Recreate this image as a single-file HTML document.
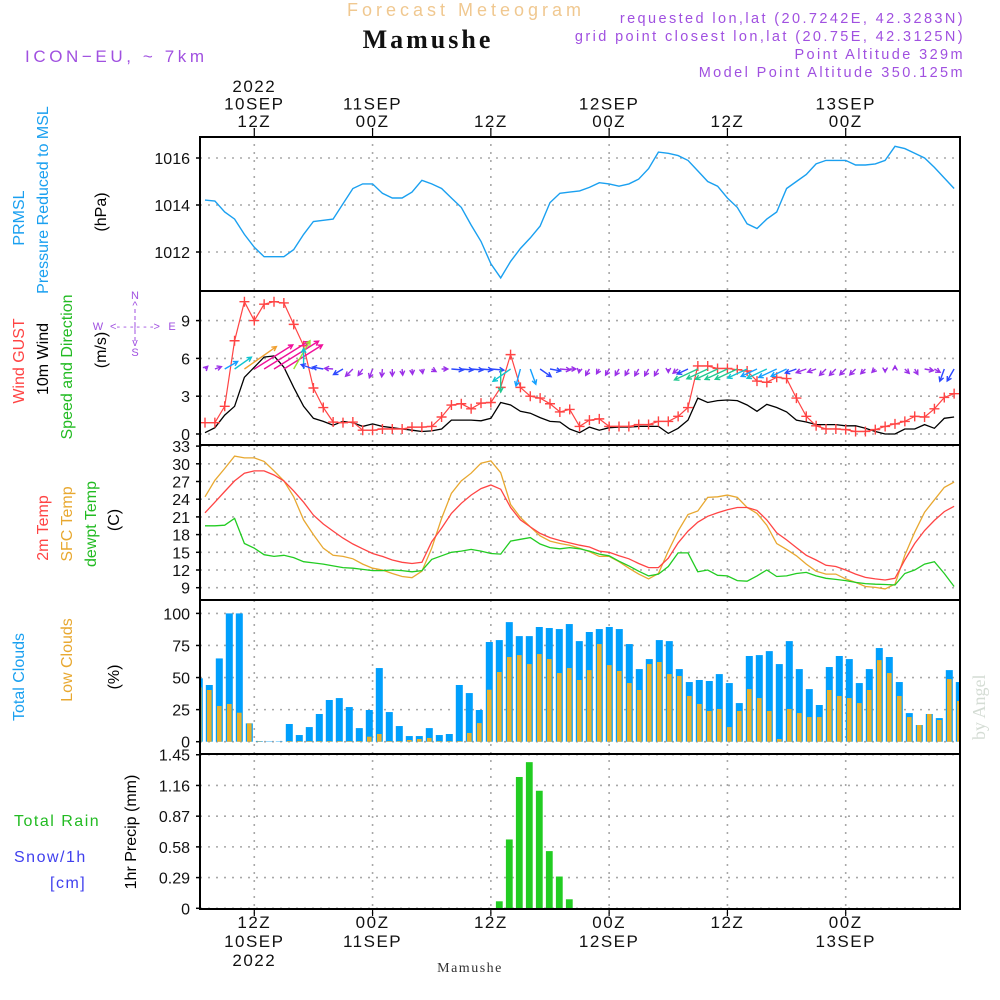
<!DOCTYPE html>
<html><head><meta charset="utf-8"><style>
html,body{margin:0;padding:0;background:#fff;}
svg{display:block;font-family:"Liberation Sans",sans-serif;}
</style></head><body>
<svg id="chart" width="1000" height="1000" viewBox="0 0 1000 1000">
<defs><clipPath id="plotclip"><rect x="200" y="137" width="760" height="772"/></clipPath></defs>
<text x="466" y="16" text-anchor="middle" font-size="18" fill="#f0c890" letter-spacing="4">Forecast Meteogram</text>
<text x="428" y="48" text-anchor="middle" font-size="26" font-weight="bold" font-family="Liberation Serif,serif" fill="#111" letter-spacing="3">Mamushe</text>
<text x="25" y="62" font-size="17" fill="#a050e0" letter-spacing="3.6">ICON−EU, ~ 7km</text>
<g font-size="14.5" fill="#a050e0" text-anchor="end" letter-spacing="2.4">
<text x="965" y="23">requested lon,lat (20.7242E, 42.3283N)</text>
<text x="965" y="41">grid point closest lon,lat (20.75E, 42.3125N)</text>
<text x="965" y="59">Point Altitude 329m</text>
<text x="965" y="77">Model Point Altitude 350.125m</text>
</g>
<g id="grid"></g>
<g id="marks" clip-path="url(#plotclip)"></g>
<g id="frames"></g>
<g id="axes" font-size="16" fill="#111"></g>
<g id="labels" font-size="16"></g>
<text transform="translate(985,740) rotate(-90)" font-size="18" font-family="Liberation Serif,serif" fill="#d4dcd4">by Angel</text>
<text x="470" y="972" text-anchor="middle" font-size="14" font-family="Liberation Serif,serif" fill="#333" letter-spacing="1.5">Mamushe</text>
</svg>
<script>
const pressure=[1014.21,1014.17,1013.7,1013.4,1012.75,1012.2,1011.8,1011.8,1011.8,1012.1,1012.75,1013.3,1013.35,1013.4,1014.05,1014.7,1014.9,1014.9,1014.5,1014.3,1014.3,1014.55,1015.05,1014.9,1014.7,1014.3,1013.9,1013.15,1012.45,1011.5,1010.9,1011.6,1012.15,1012.6,1013.1,1014.1,1014.5,1014.55,1014.6,1014.75,1014.95,1014.9,1014.8,1014.9,1015.1,1015.55,1016.25,1016.2,1016.1,1015.9,1015.45,1015.0,1014.8,1014.3,1013.9,1013.2,1013.0,1013.4,1013.7,1014.7,1015.0,1015.3,1015.75,1015.9,1015.9,1015.9,1015.7,1015.7,1015.75,1015.9,1016.5,1016.4,1016.2,1016.0,1015.6,1015.15,1014.7];
const gust=[0.9,0.9,2.2,7.4,10.5,9.0,10.3,10.5,10.4,8.7,7.0,3.65,2.1,0.95,0.9,0.95,0.3,0.3,0.4,0.4,0.4,0.55,0.55,0.6,1.35,2.3,2.4,2.0,2.45,2.5,3.7,6.3,3.7,3.0,2.85,2.4,1.75,1.95,0.6,1.1,1.2,0.6,0.6,0.6,0.75,0.75,1.0,1.0,1.4,2.1,5.4,5.4,5.2,5.2,5.1,5.0,4.2,4.1,4.5,4.4,2.85,1.4,0.65,0.4,0.4,0.35,0.2,0.2,0.35,0.6,0.8,1.0,1.4,1.35,2.0,2.9,3.2];
const wind10m=[0.1,0.5,1.5,2.2,4.5,5.3,6.1,6.2,5.3,3.7,2.2,1.25,1.0,0.7,1.0,0.9,0.6,0.8,0.6,0.5,0.4,0.3,0.2,0.25,0.4,1.1,1.1,1.1,1.05,1.25,2.5,2.3,1.8,1.65,1.3,1.0,0.95,0.4,0.1,0.55,0.3,0.5,0.55,0.55,0.6,0.6,0.6,0.05,0.45,1.1,2.85,2.5,2.65,2.7,2.65,2.3,1.8,2.35,2.1,1.75,1.1,0.95,0.75,0.75,0.75,0.65,0.65,0.45,0.2,0.0,0.0,0.4,0.4,0.75,0.45,1.25,1.35];
const windDirTo=[45,70,60,55,55,58,58,58,58,30,0,290,280,275,240,225,215,200,185,180,175,175,170,120,90,95,95,95,95,95,180,235,195,160,125,100,95,90,190,210,210,210,210,210,210,210,210,180,230,245,245,245,245,245,245,245,245,245,245,245,250,250,250,225,225,225,225,225,225,180,0,135,150,100,120,200,210];
const temp2m=[21.7,23.5,25.3,27.1,28.4,28.8,28.8,28.1,27.1,25.4,23.5,21.3,19.8,18.6,17.4,16.4,15.6,14.8,14.3,13.7,13.3,13.1,13.3,16.8,19.1,21.6,23.3,24.7,25.8,26.4,25.7,22.6,20.5,19.3,18.2,17.5,17.0,16.6,16.2,15.9,15.2,15.0,14.4,13.9,13.1,12.4,12.4,14.0,16.6,18.6,20.1,21.1,21.7,22.2,22.6,22.6,22.1,20.5,18.3,17.1,15.8,14.5,13.7,12.8,12.6,12.0,11.3,10.75,10.5,10.3,10.6,13.7,16.5,18.7,20.4,21.9,22.8];
const sfcTemp=[24.4,27.2,29.2,31.3,31.0,31.0,30.4,28.8,27.1,24.4,20.5,18.0,15.7,14.5,14.3,13.9,13.0,12.3,12.0,11.4,10.9,10.7,11.8,15.7,20.75,25.0,27.1,28.4,30.1,30.5,28.5,23.1,20.9,19.3,17.8,16.9,16.5,16.2,15.7,15.1,14.3,14.3,13.4,12.3,11.3,10.5,11.4,15.2,18.6,21.4,22.0,24.3,24.4,24.7,24.3,22.6,21.6,19.6,16.5,15.5,14.4,13.0,11.8,11.3,11.3,10.5,9.9,9.2,9.05,8.8,9.6,14.5,18.4,21.8,23.9,26.0,26.9];
const dewpt=[19.5,19.5,19.6,20.75,16.5,15.7,14.6,14.3,14.5,14.1,13.4,13.2,13.0,12.7,12.4,12.3,12.1,11.9,11.9,12.0,11.9,11.7,11.9,13.8,14.4,15.0,15.2,15.5,15.2,14.8,14.7,16.9,17.2,17.5,16.4,15.8,15.6,15.8,15.6,15.2,14.7,14.4,13.5,12.7,11.8,11.0,11.3,12.6,14.9,14.9,11.7,12.0,11.1,11.0,10.2,10.1,11.0,12.0,10.9,11.0,11.4,11.6,11.0,10.6,10.4,10.2,9.9,9.7,9.6,9.55,9.45,11.4,12.0,13.0,13.4,11.4,9.2];
const totalClouds=[49.4,44.2,64.9,100,100,14.3,0.5,0.3,0.3,13.8,5.2,11.4,21.6,32.5,34.0,27.0,10.6,24.7,57.4,23.1,12.2,4.4,4.4,10.6,5.2,6.0,44.2,37.9,24.7,77.7,79.2,93.2,82.3,82.3,89.4,88.6,87.8,91.7,78.4,85.5,87.8,89.4,87.8,76.1,56.6,64.4,79.2,78.4,56.6,46.5,48.1,47.3,52.7,45.7,30.1,66.8,67.5,70.6,60.5,78.4,56.6,41.0,28.6,58.2,66.8,64.4,45.7,56.6,73.0,66.0,46.5,22.3,13.0,21.6,18.4,55.8,46.5];
const lowClouds=[42.3,40.3,27.8,29.4,22.6,14.3,0.3,0,0,0.5,0.5,0.5,0.5,0.5,0.5,0.5,0.5,3.9,6.0,0.5,0.5,1.3,2.1,2.9,0.5,0.5,0.5,6.8,14.5,40.5,54.3,66.0,67.5,60.5,68.3,64.4,53.5,57.4,48.1,55.8,76.1,59.7,55.1,45.7,40.3,60.5,62.1,52.7,51.2,35.6,29.4,23.9,25.5,11.4,23.9,41.0,34.0,23.9,2.1,25.5,22.3,19.2,19.2,40.3,35.6,34.0,30.1,40.3,63.6,53.5,35.6,19.2,13.0,21.6,16.9,48.8,31.7];
const precipIdx=[30,31,32,33,34,35,36,37];
const precipVal=[0.066,0.65,1.24,1.38,1.11,0.54,0.30,0.085];
const pressTicks=[1012,1014,1016];
const windTicks=[0,3,6,9];
const tempTicks=[9,12,15,18,21,24,27,30,33];
const cloudTicks=[0,25,50,75,100];
const precipTicks=["0","0.29","0.58","0.87","1.16","1.45"];
const gridHours=[5,17,29,41,53,65];
const topLabels=[["2022","10SEP","12Z"],["","11SEP","00Z"],["","","12Z"],["","12SEP","00Z"],["","","12Z"],["","13SEP","00Z"]];
const botLabels=[["12Z","10SEP","2022"],["00Z","11SEP",""],["12Z","",""],["00Z","12SEP",""],["12Z","",""],["00Z","13SEP",""]];

const NS="http://www.w3.org/2000/svg";
const X=i=>205+i*9.857;
const XB=k=>199.3+k*10;
const Yp=v=>158+(1016-v)*23.5;
const Yw=v=>434-v*12.6;
const Yt=v=>587.7-(v-9)*5.9;
const Yc=v=>741.7-v*1.283;
const Yr=v=>908.3-v*105.9;
function mk(tag,attrs,parent){const e=document.createElementNS(NS,tag);for(const k in attrs)e.setAttribute(k,attrs[k]);parent.appendChild(e);return e;}
const grid=document.getElementById('grid'),marks=document.getElementById('marks'),frames=document.getElementById('frames'),axes=document.getElementById('axes'),labels=document.getElementById('labels');
const panels=[[137,291],[291,445],[445,600],[600,754],[754,909]];
gridHours.forEach(h=>{const l=mk('line',{x1:X(h),x2:X(h),y1:128,y2:915,stroke:'#a8a8a8','stroke-width':1.6,'stroke-dasharray':'2 6'},grid);

});
function hgrid(vals,yf,name){vals.forEach(v=>{const y=yf(Number(v));const l=mk('line',{x1:200,x2:960,y1:y,y2:y,stroke:'#a8a8a8','stroke-width':1.6,'stroke-dasharray':'2 6'},grid);


const t=mk('text',{x:190,y:y+6,'text-anchor':'end'},axes);t.textContent=v;


mk('line',{x1:196,x2:200,y1:y,y2:y,stroke:'#000','stroke-width':1.5},axes);});}
hgrid(pressTicks,Yp,'pressure');
hgrid(windTicks,Yw,'wind');
hgrid(tempTicks,Yt,'temp');
hgrid(cloudTicks,Yc,'cloud');
hgrid(precipTicks,Yr,'precip');
function line(arr,yf,color,w,name){const d=arr.map((v,i)=>(i?'L':'M')+X(i).toFixed(1)+','+yf(v).toFixed(1)).join('');const p=mk('path',{d:d,fill:'none',stroke:color,'stroke-width':w},marks);

return p;}
totalClouds.forEach((v,k)=>{const y=Yc(v);const r=mk('rect',{x:XB(k)-3.5,y:y,width:7,height:741.7-y,fill:'#009ffc'},marks);

});
lowClouds.forEach((v,k)=>{const y=Yc(v);const r=mk('rect',{x:XB(k)-2.3,y:y,width:4.6,height:741.7-y,fill:'#e8b02c'},marks);

});
precipIdx.forEach((k,j)=>{const y=Yr(precipVal[j]);const r=mk('rect',{x:XB(k)-3.4,y:y,width:6.8,height:908.3-y,fill:'#22cc22'},marks);

});
line(pressure,Yp,'#1aa0f0',1.4,'pressure-line');
line(sfcTemp,Yt,'#e8a830',1.3,'sfc-temp-line');
line(temp2m,Yt,'#ff4444',1.3,'temp-2m-line');
line(dewpt,Yt,'#22cc22',1.3,'dewpoint-line');
line(wind10m,Yw,'#000',1.3,'wind-10m-line');
line(gust,Yw,'#ff4444',1.2,'gust-line');
gust.forEach((v,i)=>{const x=X(i),y=Yw(v);const p=mk('path',{d:`M${x-5},${y}h10M${x},${y-5}v10`,stroke:'#ff4444','stroke-width':1.4},marks);

});
function wcol(s){if(s<1)return'#9b30e8';if(s<1.5)return'#2c48ff';if(s<2.2)return'#14a0ff';if(s<2.5)return'#10c4d0';if(s<3)return'#20c890';if(s<4)return'#98e030';if(s<5)return'#f0a030';return'#f0109a';}
windDirTo.forEach((dir,i)=>{const s=wind10m[i];const len=3+8*s;const a=dir*Math.PI/180;const x0=X(i),y0=369;const x1=x0+len*Math.sin(a),y1=y0-len*Math.cos(a);
const h=5,ha=0.5;const b1x=x1-h*Math.sin(a-ha),b1y=y1+h*Math.cos(a-ha),b2x=x1-h*Math.sin(a+ha),b2y=y1+h*Math.cos(a+ha);
const p=mk('path',{d:`M${x0.toFixed(1)},${y0}L${x1.toFixed(1)},${y1.toFixed(1)}M${b1x.toFixed(1)},${b1y.toFixed(1)}L${x1.toFixed(1)},${y1.toFixed(1)}L${b2x.toFixed(1)},${b2y.toFixed(1)}`,stroke:wcol(s),'stroke-width':1.4,fill:'none'},marks);

});
panels.forEach(([a,b])=>{const r=mk('rect',{x:200,y:a,width:760,height:b-a,fill:'none',stroke:'#000','stroke-width':2},frames);

});
gridHours.forEach((h,j)=>{const x=X(h);
mk('line',{x1:x,x2:x,y1:128,y2:137,stroke:'#000','stroke-width':1.2},axes);
mk('line',{x1:x,x2:x,y1:909,y2:916,stroke:'#000','stroke-width':1.2},axes);
topLabels[j].forEach((s,r)=>{if(!s)return;const t=mk('text',{x:x,y:92+r*17.5,'text-anchor':'middle','font-size':17,'letter-spacing':1.5},axes);t.textContent=s;

});
botLabels[j].forEach((s,r)=>{if(!s)return;const t=mk('text',{x:x,y:928+r*19,'text-anchor':'middle','font-size':17,'letter-spacing':1.5},axes);t.textContent=s;

});});
function vlab(txt,x,cy,col,name){const t=mk('text',{transform:`translate(${x},${cy}) rotate(-90)`,'text-anchor':'middle',fill:col},labels);t.textContent=txt;

}
vlab('PRMSL',24,218,'#1aa0f0','prmsl-label');
vlab('Pressure Reduced to MSL',48,200,'#1aa0f0','pressure-label');
vlab('(hPa)',106,212,'#000','pressure-unit');
vlab('Wind GUST',24,361,'#ff4444','gust-label');
vlab('10m Wind',48,359,'#000','wind-label');
vlab('Speed and Direction',72,367,'#22bb22','wind-direction-label');
vlab('(m/s)',106,350,'#000','wind-unit');
vlab('2m Temp',48,528,'#ff4444','temp-2m-label');
vlab('SFC Temp',72,524,'#e8a830','sfc-temp-label');
vlab('dewpt Temp',96,524,'#22bb22','dewpoint-label');
vlab('(C)',119,520,'#000','temp-unit');
vlab('Total Clouds',24,677,'#1aa0f0','total-clouds-label');
vlab('Low Clouds',72,660,'#e8a830','low-clouds-label');
vlab('(%)',119,677,'#000','cloud-unit');
vlab('1hr Precip (mm)',136,832,'#000','precip-unit');
[['Total  Rain',14,826,'#22bb22','rain-label'],['Snow/1h',14,862,'#4040ee','snow-label'],['[cm]',50,888,'#4040ee','snow-unit']].forEach(a=>{const t=mk('text',{x:a[1],y:a[2],fill:a[3],'letter-spacing':1.5},labels);t.textContent=a[0];

});
const cg=mk('g',{fill:'#a050e0','font-size':11,'text-anchor':'middle'},labels);


[['N',135,299],['^',135,309],['W',98,330],['<- - -|- - ->',135,330],['E',172,330],['v',135,346],['S',135,356]].forEach(a=>{const t=mk('text',{x:a[1],y:a[2]},cg);t.textContent=a[0];});
mk('line',{x1:135,x2:135,y1:309,y2:342,stroke:'#a050e0','stroke-width':1,'stroke-dasharray':'4 3'},cg);
</script>
</body></html>
